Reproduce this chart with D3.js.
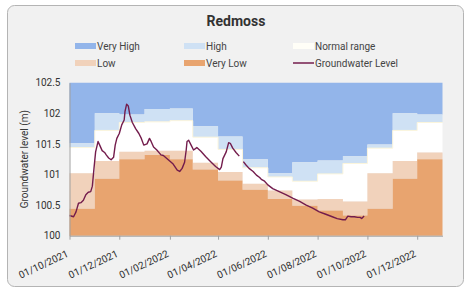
<!DOCTYPE html>
<html>
<head>
<meta charset="utf-8">
<script src="https://cdnjs.cloudflare.com/ajax/libs/d3/7.8.5/d3.min.js"></script>
<style>
	body { margin: 0; background: #fff; }
	svg { display: block; font-family: Roboto, 'Noto Sans', sans-serif; }
</style>
</head>
<body>
<svg id="chart" width="471" height="293"></svg>
<script>
// Redmoss groundwater chart
var parse = d3.timeParse('%Y-%m-%d');

// monthly band thresholds (start of each month, step after)
var monthStarts = ['2021-10-01', '2021-11-01', '2021-12-01', '2022-01-01', '2022-02-01', '2022-03-01',
	'2022-04-01', '2022-05-01', '2022-06-01', '2022-07-01', '2022-08-01', '2022-09-01',
	'2022-10-01', '2022-11-01', '2022-12-01', '2023-01-01'];
var highTop   = [101.51, 102.00, 101.98, 102.07, 102.08, 101.79, 101.62, 101.25, 101.02, 101.20, 101.23, 101.30, 101.49, 102.00, 101.98, 101.98];
var normalTop = [101.44, 101.72, 101.85, 101.86, 101.88, 101.61, 101.41, 101.11, 100.96, 100.89, 101.01, 101.18, 101.43, 101.72, 101.85, 101.85];
var lowTop    = [101.02, 101.22, 101.37, 101.39, 101.39, 101.19, 101.04, 100.85, 100.74, 100.59, 100.60, 100.56, 101.02, 101.22, 101.36, 101.36];
var veryLowTop = [100.44, 100.93, 101.25, 101.32, 101.25, 101.08, 100.90, 100.75, 100.60, 100.49, 100.41, 100.33, 100.44, 100.93, 101.25, 101.25];

// groundwater level readings (null = gap in record)
var levelDates = ['2021-10-01', '2021-10-06', '2021-10-09', '2021-10-12', '2021-10-15', '2021-10-18', '2021-10-21',
	'2021-10-24', '2021-10-27', '2021-10-29', '2021-10-31', '2021-11-02', '2021-11-05', '2021-11-07', '2021-11-10',
	'2021-11-13', '2021-11-15', '2021-11-18', '2021-11-21', '2021-11-24', '2021-11-26', '2021-11-28', '2021-12-01',
	'2021-12-04', '2021-12-07', '2021-12-08', '2021-12-10', '2021-12-12', '2021-12-14', '2021-12-17', '2021-12-21',
	'2021-12-25', '2021-12-28', '2021-12-31', '2022-01-04', '2022-01-07', '2022-01-09', '2022-01-12', '2022-01-16',
	'2022-01-21', '2022-01-24', '2022-01-30', '2022-02-05', '2022-02-10', '2022-02-13', '2022-02-16', '2022-02-19',
	'2022-02-21', '2022-02-22', '2022-02-24', '2022-02-27', '2022-03-02', '2022-03-06', '2022-03-11', '2022-03-17',
	'2022-03-23', '2022-03-29', '2022-04-03', '2022-04-05', '2022-04-07', '2022-04-11', '2022-04-14', '2022-04-16',
	'2022-04-19', '2022-04-23', '2022-04-27', '2022-04-30', '2022-05-02', '2022-05-05', '2022-05-09', '2022-05-14',
	'2022-05-18', '2022-05-22', '2022-05-24', '2022-05-28', '2022-06-01', '2022-06-07', '2022-06-15', '2022-06-23',
	'2022-07-02', '2022-07-10', '2022-07-18', '2022-07-26', '2022-08-03', '2022-08-11', '2022-08-19', '2022-08-25',
	'2022-09-01', '2022-09-04', '2022-09-07', '2022-09-11', '2022-09-15', '2022-09-19', '2022-09-22', '2022-09-24',
	'2022-09-27'];
var levelValues = [100.33, 100.31, 100.39, 100.53, 100.54, 100.58, 100.67,
	100.71, 100.72, 100.81, 101.10, 101.37, 101.54, 101.48, 101.39,
	101.36, 101.32, 101.27, 101.24, 101.28, 101.48, 101.59, 101.67,
	101.81, 101.89, 102.03, 102.15, 102.12, 101.97, 101.85, 101.75,
	101.67, 101.59, 101.48, 101.50, 101.59, 101.54, 101.45, 101.40,
	101.32, 101.31, 101.24, 101.17, 101.07, 101.05, 101.10, 101.20,
	101.40, 101.54, 101.56, 101.48, 101.40, 101.44, 101.38, 101.29,
	101.21, 101.13, 101.08, 101.12, 101.26, 101.37, 101.52, 101.51,
	101.43, 101.36, 101.30, null, 101.21, 101.16, 101.10, 101.05,
	100.99, 100.95, 100.92, 100.89, 100.83, 100.77, 100.72, 100.67,
	100.61, 100.56, 100.50, 100.45, 100.39, 100.35, 100.31, 100.28,
	100.26, 100.26, 100.32, 100.31, 100.31, 100.30, 100.30, 100.28,
	100.32];

var yTicks = [100, 100.5, 101, 101.5, 102, 102.5];
var xTicks = ['2021-10-01', '2021-12-01', '2022-02-01', '2022-04-01', '2022-06-01', '2022-08-01', '2022-10-01', '2022-12-01'];

var legendItems = [
	{ label: 'Very High', color: '#93b5ea', type: 'box' },
	{ label: 'High', color: '#cfe1f4', type: 'box' },
	{ label: 'Normal range', color: '#fffef7', type: 'box' },
	{ label: 'Low', color: '#f1d2bb', type: 'box' },
	{ label: 'Very Low', color: '#e8a46f', type: 'box' },
	{ label: 'Groundwater Level', color: '#731c4c', type: 'line' }
];

var svg = d3.select('#chart');

// card background
svg.append('rect')
	.attr('x', 7.5)
	.attr('y', 5.5)
	.attr('width', 456)
	.attr('height', 281)
	.attr('rx', 7)
	.attr('ry', 7)
	.style('fill', '#f1f1f1')
	.style('stroke', '#b4b4b4')
	.style('stroke-width', 1);

svg.append('text')
	.attr('x', 236)
	.attr('y', 26)
	.attr('text-anchor', 'middle')
	.text('Redmoss')
	.style('font-size', '14px')
	.style('font-weight', 'bold')
	.style('fill', '#333');

// legend
var legendCols = [75, 184, 293];
var legendRows = [46, 63];
legendItems.forEach(function (item, i) {
	var lx = legendCols[i % 3];
	var ly = legendRows[Math.floor(i / 3)];
	if (item.type === 'box') {
		svg.append('rect')
			.attr('x', lx)
			.attr('y', ly - 3)
			.attr('width', 21)
			.attr('height', 6)
			.style('fill', item.color);
	} else {
		svg.append('line')
			.attr('x1', lx)
			.attr('x2', lx + 21)
			.attr('y1', ly)
			.attr('y2', ly)
			.style('stroke', item.color)
			.style('stroke-width', 1.5);
	}
	svg.append('text')
		.attr('x', lx + 22)
		.attr('y', ly + 3.5)
		.text(item.label)
		.style('font-size', '10px')
		.style('fill', '#444');
});

// plot area
var plotLeft = 69.5, plotRight = 442.5, plotTop = 82.7, plotBottom = 235.7;

var x = d3.scaleTime()
	.domain([parse('2021-10-01'), parse('2023-01-01')])
	.range([plotLeft, plotRight]);

var y = d3.scaleLinear()
	.domain([100, 102.5])
	.range([plotBottom, plotTop]);

var bands = monthStarts.map(function (d, i) {
	return {
		date: parse(d),
		high: highTop[i],
		normal: normalTop[i],
		low: lowTop[i],
		vlow: veryLowTop[i]
	};
});

var layers = [
	{ color: '#93b5ea', lo: function (d) { return d.high; }, hi: function () { return 102.5; } },
	{ color: '#cfe1f4', lo: function (d) { return d.normal; }, hi: function (d) { return d.high; } },
	{ color: '#ffffff', lo: function (d) { return d.low; }, hi: function (d) { return d.normal; } },
	{ color: '#f1d2bb', lo: function (d) { return d.vlow; }, hi: function (d) { return d.low; } },
	{ color: '#e8a46f', lo: function () { return 100; }, hi: function (d) { return d.vlow; } }
];

var plot = svg.append('g');

layers.forEach(function (layer) {
	var area = d3.area()
		.curve(d3.curveStepAfter)
		.x(function (d) { return x(d.date); })
		.y0(function (d) { return y(layer.lo(d)); })
		.y1(function (d) { return y(layer.hi(d)); });

	plot.append('path')
		.datum(bands)
		.attr('d', area)
		.style('fill', layer.color);
});

// thin cream edge on top of normal band
plot.append('path')
	.datum(bands)
	.attr('d', d3.line()
		.curve(d3.curveStepAfter)
		.x(function (d) { return x(d.date); })
		.y(function (d) { return y(d.normal); }))
	.style('fill', 'none')
	.style('stroke', '#fbf5dc')
	.style('stroke-width', 1);

// groundwater level
var levels = levelDates.map(function (d, i) {
	return { date: parse(d), value: levelValues[i] };
});

plot.append('path')
	.datum(levels)
	.attr('d', d3.line()
		.defined(function (d) { return d.value !== null; })
		.x(function (d) { return x(d.date); })
		.y(function (d) { return y(d.value); }))
	.style('fill', 'none')
	.style('stroke', '#731c4c')
	.style('stroke-width', 1.4)
	.style('stroke-linejoin', 'round');

// axes
var yAxis = svg.append('g')
	.attr('transform', 'translate(' + plotLeft + ',0)')
	.call(d3.axisLeft(y).tickValues(yTicks).tickSize(0).tickPadding(9).tickFormat(d3.format('')));
yAxis.select('.domain').style('stroke', '#a0a0a0');
yAxis.selectAll('text')
	.style('font-size', '10px')
	.style('fill', '#333')
	.style('font-family', 'Roboto, sans-serif');

var xAxis = svg.append('g')
	.attr('transform', 'translate(0,' + plotBottom + ')')
	.call(d3.axisBottom(x)
		.tickValues(xTicks.map(parse))
		.tickSize(4)
		.tickSizeOuter(0)
		.tickFormat(d3.timeFormat('%d/%m/%Y')));
xAxis.select('.domain').style('stroke', '#a0a0a0');
xAxis.selectAll('line').style('stroke', '#a0a0a0');
xAxis.selectAll('text')
	.attr('text-anchor', 'end')
	.attr('x', 0)
	.attr('y', 0)
	.attr('dy', 0)
	.attr('transform', 'translate(-1,20.5) rotate(-25)')
	.style('font-size', '10px')
	.style('fill', '#333')
	.style('font-family', 'Roboto, sans-serif');

svg.append('text')
	.attr('transform', 'translate(28,' + ((plotTop + plotBottom) / 2) + ') rotate(-90)')
	.attr('text-anchor', 'middle')
	.text('Groundwater level (m)')
	.style('font-size', '10px')
	.style('fill', '#333');
</script>
</body>
</html>
